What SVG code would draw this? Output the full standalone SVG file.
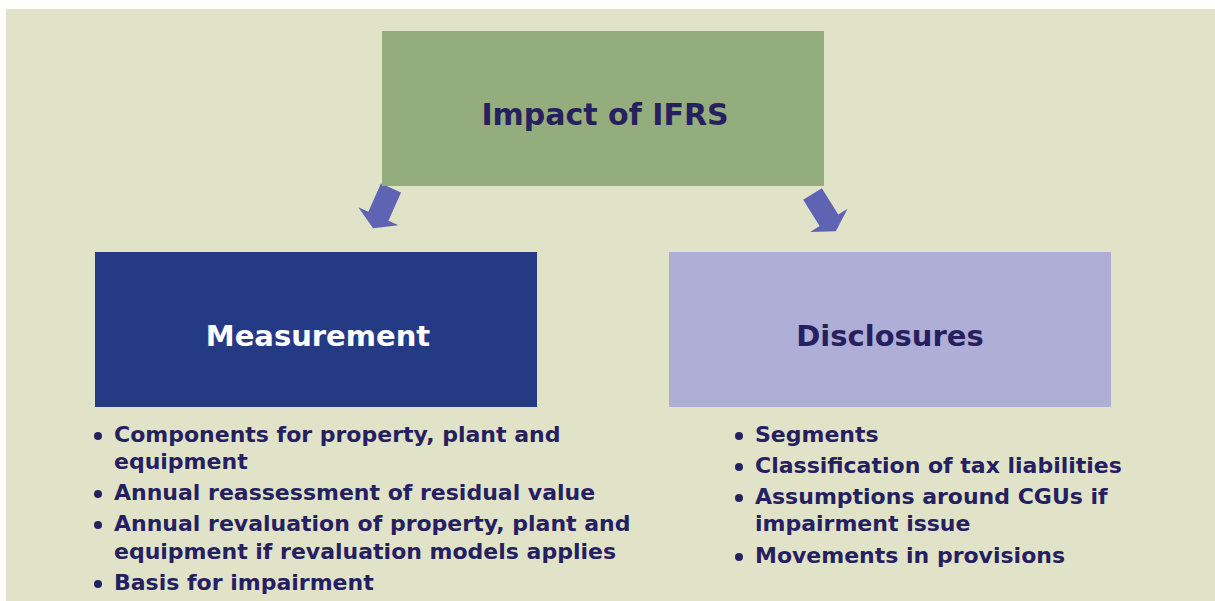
<svg xmlns="http://www.w3.org/2000/svg" width="1215" height="601" viewBox="0 0 1215 601">
<defs>
<style>
.t{font-family:"DejaVu Sans","Verdana",sans-serif;font-weight:bold;}
.head{font-size:30px;text-anchor:middle;}
.item{font-size:22px;fill:#252060;}
.bul{fill:#252060;}
.arrow{fill:#5f63b3;}
</style>
<polygon id="blk" points="-11,0 11,0 11,31 22,31 0,44 -22,31 -11,31"/>
</defs>
<rect x="0" y="0" width="1215" height="601" fill="#ffffff"/>
<rect x="6" y="9" width="1209" height="592" fill="#e1e3c9"/>
<g id="connectors">
<use href="#blk" class="arrow" transform="translate(391,188) rotate(24)"/>
<use href="#blk" class="arrow" transform="translate(812.5,194) rotate(-32)"/>
</g>
<g id="impact">
<rect x="382" y="31" width="442" height="155" fill="#94ad7c"/>
<text class="t head" x="605" y="125" fill="#27205e">Impact of IFRS</text>
</g>
<g id="measurement">
<rect x="95" y="252" width="442" height="155" fill="#253a85"/>
<text class="t head" x="318" y="346" fill="#ffffff" style="font-size:29px">Measurement</text>
</g>
<g id="disclosures">
<rect x="669" y="252" width="442" height="155" fill="#afaed6"/>
<text class="t head" x="890" y="346" fill="#27205e" style="font-size:29px">Disclosures</text>
</g>
<g id="measurement-items">
<circle class="bul" cx="98" cy="436" r="4"/>
<text class="t item" x="114" y="442">Components for property, plant and</text>
<text class="t item" x="114" y="469">equipment</text>
<circle class="bul" cx="98" cy="494" r="4"/>
<text class="t item" x="114" y="500">Annual reassessment of residual value</text>
<circle class="bul" cx="98" cy="525" r="4"/>
<text class="t item" x="114" y="531">Annual revaluation of property, plant and</text>
<text class="t item" x="114" y="559">equipment if revaluation models applies</text>
<circle class="bul" cx="98" cy="584" r="4"/>
<text class="t item" x="114" y="590">Basis for impairment</text>
</g>
<g id="disclosure-items">
<circle class="bul" cx="739" cy="436" r="4"/>
<text class="t item" x="755" y="442">Segments</text>
<circle class="bul" cx="739" cy="467" r="4"/>
<text class="t item" x="755" y="473">Classification of tax liabilities</text>
<circle class="bul" cx="739" cy="498" r="4"/>
<text class="t item" x="755" y="504">Assumptions around CGUs if</text>
<text class="t item" x="755" y="531">impairment issue</text>
<circle class="bul" cx="739" cy="557" r="4"/>
<text class="t item" x="755" y="563">Movements in provisions</text>
</g>
</svg>
